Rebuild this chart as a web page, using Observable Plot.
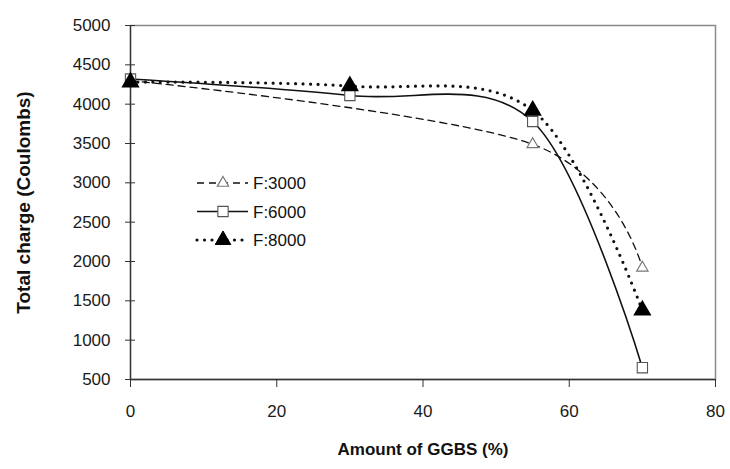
<!DOCTYPE html>
<html><head><meta charset="utf-8">
<script src="https://cdn.jsdelivr.net/npm/d3@7"></script>
<script src="https://cdn.jsdelivr.net/npm/@observablehq/plot@0.6"></script>
<style>body{margin:0;background:#fff;} svg{display:block;}</style>
</head><body><div id="chart"></div>
<script>
// ---- data ----
const seriesNames = ["F:3000", "F:6000", "F:8000"];
const ggbs3000 = [0, 55, 70];
const charge3000 = [4300, 3490, 1920];
const ggbs6000 = [0, 30, 55, 70];
const charge6000 = [4320, 4110, 3780, 650];
const ggbs8000 = [0, 30, 55, 70];
const charge8000 = [4280, 4230, 3920, 1380];
const xTicks = [0, 20, 40, 60, 80];
const yTicks = [500, 1000, 1500, 2000, 2500, 3000, 3500, 4000, 4500, 5000];
const xTitle = "Amount of GGBS (%)";
const yTitle = "Total charge (Coulombs)";

const rows = (name, xs, ys) => xs.map((x, i) => ({series: name, x, y: ys[i]}));
const d3000 = rows(seriesNames[0], ggbs3000, charge3000);
const d6000 = rows(seriesNames[1], ggbs6000, charge6000);
const d8000 = rows(seriesNames[2], ggbs8000, charge8000);

// ---- styles ----
const FONT = "'Liberation Sans', Arial, sans-serif";
const styles = {
  "F:3000": {line: {stroke: "#111", strokeWidth: 1.3, strokeDasharray: "7,5"}, dot: {symbol: "triangle", r: 4.2, fill: "white", stroke: "#777", strokeWidth: 1.2}},
  "F:6000": {line: {stroke: "#111", strokeWidth: 1.6}, dot: {symbol: "square", r: 5.8, fill: "white", stroke: "#555", strokeWidth: 1.1}},
  "F:8000": {line: {stroke: "#111", strokeWidth: 3.2, strokeDasharray: "0,7.5", strokeLinecap: "round"}, dot: {symbol: "triangle", r: 5.8, fill: "#000", stroke: "#000"}}
};
const datasets = [d3000, d6000, d8000];

const chart = Plot.plot({
  width: 730,
  height: 469,
  marginLeft: 130,
  marginRight: 15,
  marginTop: 25,
  marginBottom: 90,
  style: {fontFamily: FONT, fontSize: "17px", background: "white", color: "#1a1a1a"},
  x: {domain: [0, 80]},
  y: {domain: [500, 5000]},
  marks: [
    Plot.frame({stroke: "#8a8a8a", strokeWidth: 1.5}),
    Plot.ruleX([0], {stroke: "#333", strokeWidth: 1.3}),
    Plot.ruleY([500], {stroke: "#333", strokeWidth: 1.3}),
    Plot.axisY(yTicks, {tickSize: 10, dx: 5, tickFormat: () => "", label: null, stroke: "#333"}),
    Plot.axisY(yTicks, {tickSize: 0, tickPadding: 20, tickFormat: d3.format("d"), label: null}),
    Plot.axisX(xTicks, {tickSize: 8, tickPadding: 17, tickFormat: d3.format("d"), label: null, stroke: "#333"}),
    ...datasets.map(d => Plot.line(d, {x: "x", y: "y", curve: "cardinal", tension: 0, ...styles[d[0].series].line})),
    ...datasets.map(d => Plot.dot(d, {x: "x", y: "y", ...styles[d[0].series].dot})),
    Plot.text([xTitle], {frameAnchor: "bottom", dy: 75, fontSize: 17, fontWeight: "bold", fill: "#111"}),
    Plot.text([yTitle], {frameAnchor: "left", dx: -107, rotate: -90, textAnchor: "middle", fontSize: 19, fontWeight: "bold", fill: "#111"})
  ]
});

// ---- legend (inside plot area) ----
const svg = d3.select(chart);
const lg = svg.append("g").attr("transform", "translate(197,183)");
const symbolOf = {triangle: d3.symbolTriangle, square: d3.symbolSquare};
seriesNames.forEach((name, i) => {
  const st = styles[name];
  const g = lg.append("g").attr("transform", `translate(0,${i * 28.5})`);
  const ln = g.append("line").attr("x1", 0).attr("x2", 51).attr("y1", 0).attr("y2", 0)
    .attr("stroke", st.line.stroke).attr("stroke-width", st.line.strokeWidth);
  if (st.line.strokeDasharray) ln.attr("stroke-dasharray", st.line.strokeDasharray);
  if (st.line.strokeLinecap) ln.attr("stroke-linecap", st.line.strokeLinecap);
  g.append("path").attr("transform", "translate(26,0)")
    .attr("d", d3.symbol(symbolOf[st.dot.symbol], Math.PI * st.dot.r * st.dot.r)())
    .attr("fill", st.dot.fill).attr("stroke", st.dot.stroke).attr("stroke-width", st.dot.strokeWidth || 1);
  g.append("text").attr("x", 56).attr("y", 0).attr("dy", "0.36em").attr("text-anchor", "start")
    .attr("font-family", FONT).attr("font-size", 17).attr("fill", "#111").text(name);
});

document.getElementById("chart").appendChild(chart);
</script>
</body></html>
